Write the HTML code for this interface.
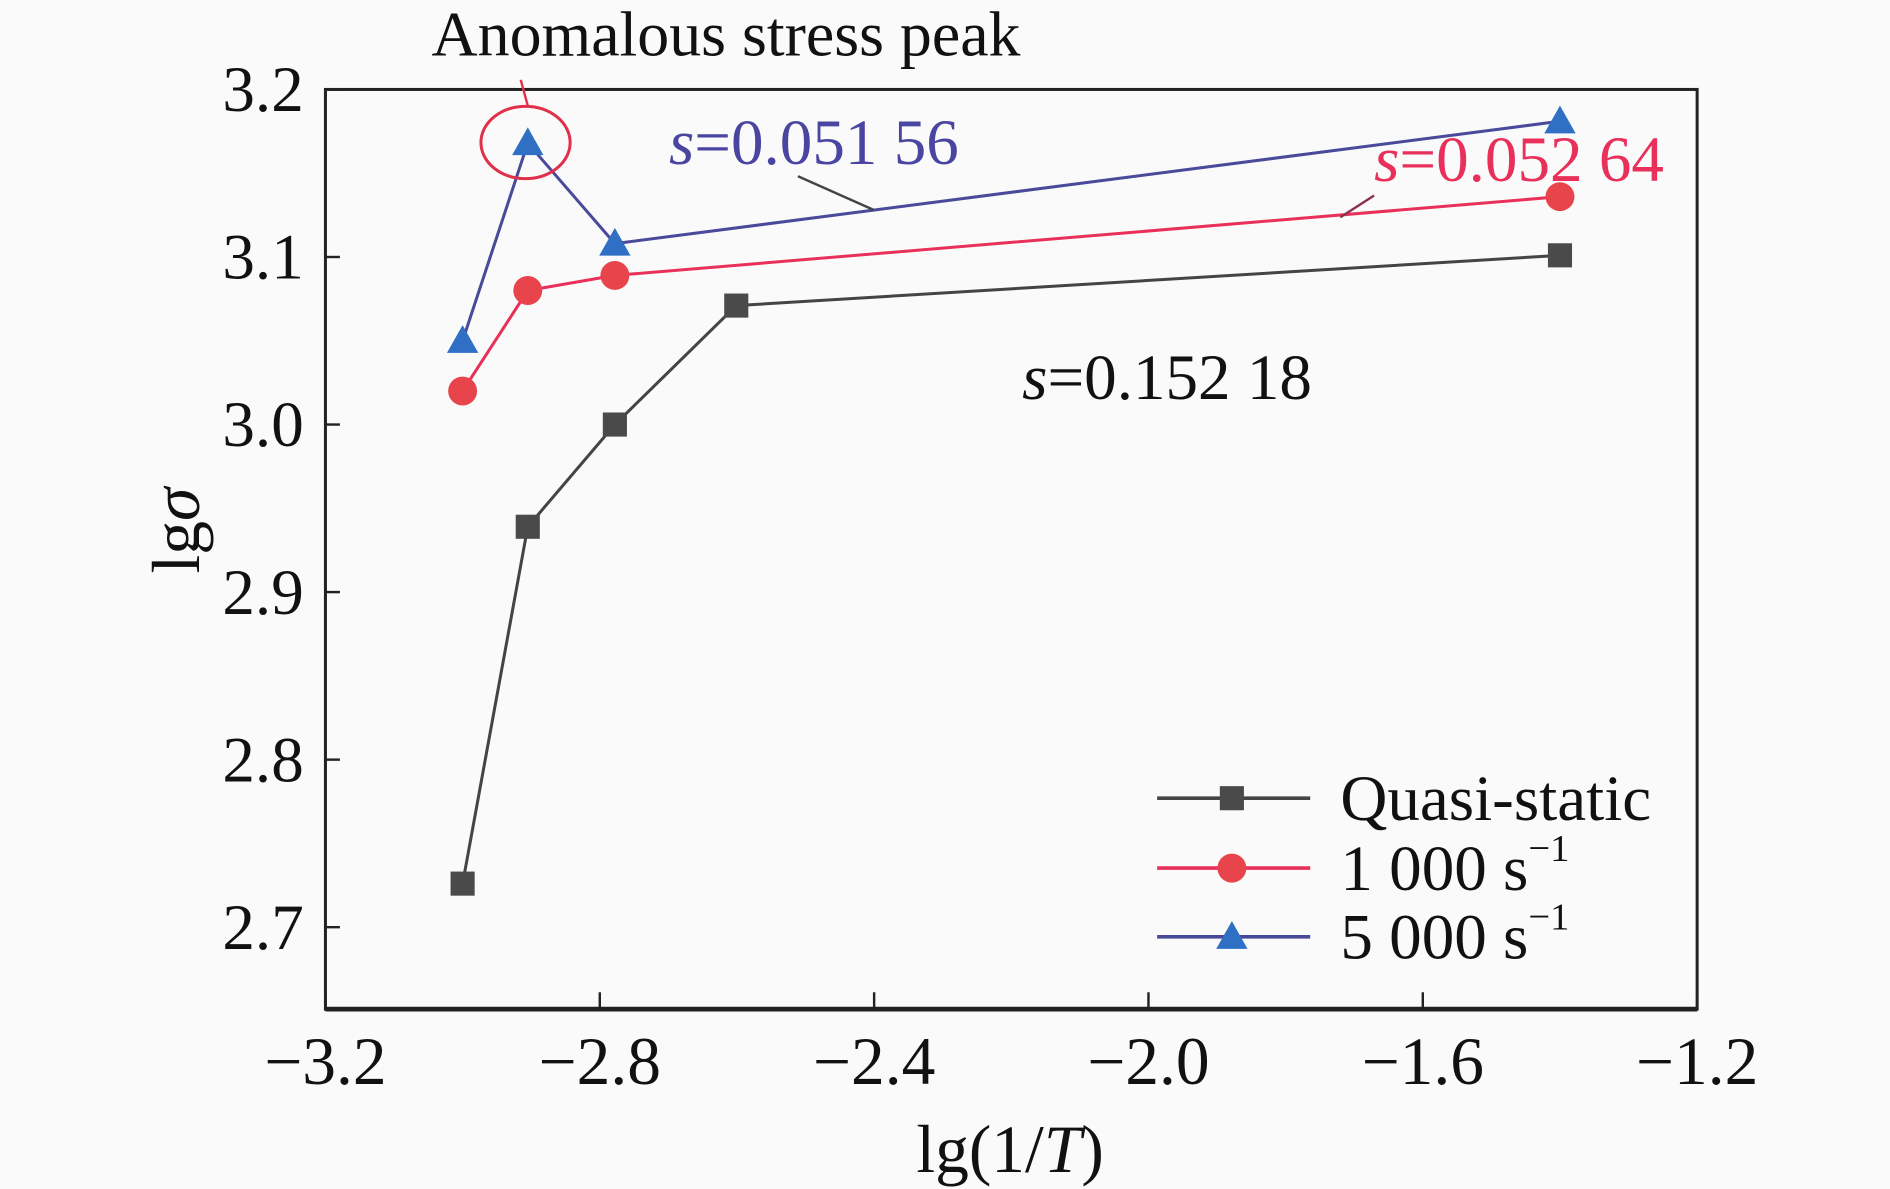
<!DOCTYPE html>
<html><head><meta charset="utf-8"><style>
html,body{margin:0;padding:0;background:#fafafa;}
svg{display:block;font-family:"Liberation Serif",serif;}
</style></head><body>
<svg id="chart" width="1890" height="1189" viewBox="0 0 1568 986" xmlns="http://www.w3.org/2000/svg">
<rect x="0" y="0" width="1568" height="986" fill="#fafafa"/>
<g id="marks"></g>
</svg>
<script>
const xTicks=[-3.2,-2.8,-2.4,-2.0,-1.6,-1.2];
const xTickLabels=["\u22123.2","\u22122.8","\u22122.4","\u22122.0","\u22121.6","\u22121.2"];
const yTicks=[2.7,2.8,2.9,3.0,3.1,3.2];
const yTickLabels=["2.7","2.8","2.9","3.0","3.1","3.2"];
const quasiX=[-3.0,-2.905,-2.778,-2.601,-1.40];
const quasiY=[2.726,2.939,3.0,3.071,3.101];
const r1000X=[-3.0,-2.905,-2.778,-1.40];
const r1000Y=[3.020,3.080,3.089,3.136];
const r5000X=[-3.0,-2.905,-2.778,-1.40];
const r5000Y=[3.050,3.168,3.108,3.181];

const L=270,R=1408,T=74,B=837;
function sx(v){return L+(v+3.2)/2.0*(R-L);}
function sy(v){return 74+(3.2-v)/0.5*(769-74);}
const NS="http://www.w3.org/2000/svg";
const g=document.getElementById('marks');
function mk(tag,attrs,parent){const e=document.createElementNS(NS,tag);for(const k in attrs)e.setAttribute(k,attrs[k]);(parent||g).appendChild(e);return e;}

let fr=mk('rect',{x:L,y:T,width:R-L,height:B-T,fill:'none',stroke:'#222','stroke-width':2.5});


mk('line',{x1:L,y1:B,x2:R,y2:B,stroke:'#222','stroke-width':4});

xTicks.forEach((v,i)=>{
  const t=mk('line',{x1:sx(v),y1:B,x2:sx(v),y2:B-14,stroke:'#222','stroke-width':2});
  
  
  const tx=mk('text',{x:sx(v),y:B+62,'font-size':56,'text-anchor':'middle',fill:'#111'});
  tx.textContent=xTickLabels[i];
  
  
});
yTicks.forEach((v,i)=>{
  const t=mk('line',{x1:L,y1:sy(v),x2:L+12,y2:sy(v),stroke:'#222','stroke-width':2});
  
  
  const tx=mk('text',{x:L-18,y:sy(v)+18,'font-size':54,'text-anchor':'end',fill:'#111'});
  tx.textContent=yTickLabels[i];
  
  
});

function series(xs,ys,color,marker,name){
  const pts=xs.map((x,i)=>sx(x)+','+sy(ys[i])).join(' ');
  const pl=mk('polyline',{points:pts,fill:'none',stroke:color,'stroke-width':2.5});
  
  
  xs.forEach((x,i)=>{
    const m=drawMarker(sx(x),sy(ys[i]),marker);
    
    
  });
}
function drawMarker(cx,cy,type){
  if(type==='square')return mk('rect',{x:cx-10,y:cy-10,width:20,height:20,fill:'#4a4a4a'});
  if(type==='circle')return mk('circle',{cx:cx,cy:cy,r:12,fill:'#e8444c'});
  return mk('polygon',{points:`${cx},${cy-13} ${cx-13},${cy+10} ${cx+13},${cy+10}`,fill:'#2f6fc4'});
}
series(quasiX,quasiY,'#444','square','quasi-static');
series(r1000X,r1000Y,'#e8305a','circle','rate-1000');
series(r5000X,r5000Y,'#4a4a9a','triangle','rate-5000');

const leg=[['Quasi-static','#444','square',662],['1 000 s','#e8305a','circle',720],['5 000 s','#4a4a9a','triangle',777]];
leg.forEach((l,i)=>{
  const ln=mk('line',{x1:960,y1:l[3],x2:1087,y2:l[3],stroke:l[1],'stroke-width':3});
  
  
  const m=drawMarker(1022,l[3],l[2]);
  
  
  const tx=mk('text',{x:1112,y:l[3]+18,'font-size':54,fill:'#111'});
  tx.textContent=l[0];
  if(i>0){const sp=mk('tspan',{dy:-24,'font-size':32},tx);sp.textContent='\u22121';}
  
  
});
</script>
<script>
(function(){
const s=document.getElementById('chart');
function add(html){s.insertAdjacentHTML('beforeend',html);}
add('<text x="358" y="46" font-size="53" fill="#111">Anomalous stress peak</text>');
add('<ellipse cx="436" cy="118" rx="37" ry="30" fill="none" stroke="#e0304a" stroke-width="2.5"/>');
add('<line x1="432" y1="66" x2="438" y2="88" stroke="#e0304a" stroke-width="2"/>');
add('<text x="555" y="136" font-size="54" fill="#4a45a0"><tspan font-style="italic">s</tspan>=0.051 56</text>');
add('<line x1="662" y1="146" x2="725" y2="174" stroke="#444" stroke-width="2"/>');
add('<text x="1140" y="150" font-size="54" fill="#e8305a"><tspan font-style="italic">s</tspan>=0.052 64</text>');
add('<line x1="1140" y1="162" x2="1112" y2="180" stroke="#8a3050" stroke-width="2"/>');
add('<text x="848" y="331" font-size="54" fill="#111"><tspan font-style="italic">s</tspan>=0.152 18</text>');
add('<text x="838" y="972" font-size="56" text-anchor="middle" fill="#111">lg(1/<tspan font-style="italic">T</tspan>)</text>');
add('<text x="0" y="0" font-size="56" text-anchor="middle" fill="#111" transform="translate(165,440) rotate(-90)">lg<tspan font-style="italic">σ</tspan></text>');
})();
</script>
</body></html>
